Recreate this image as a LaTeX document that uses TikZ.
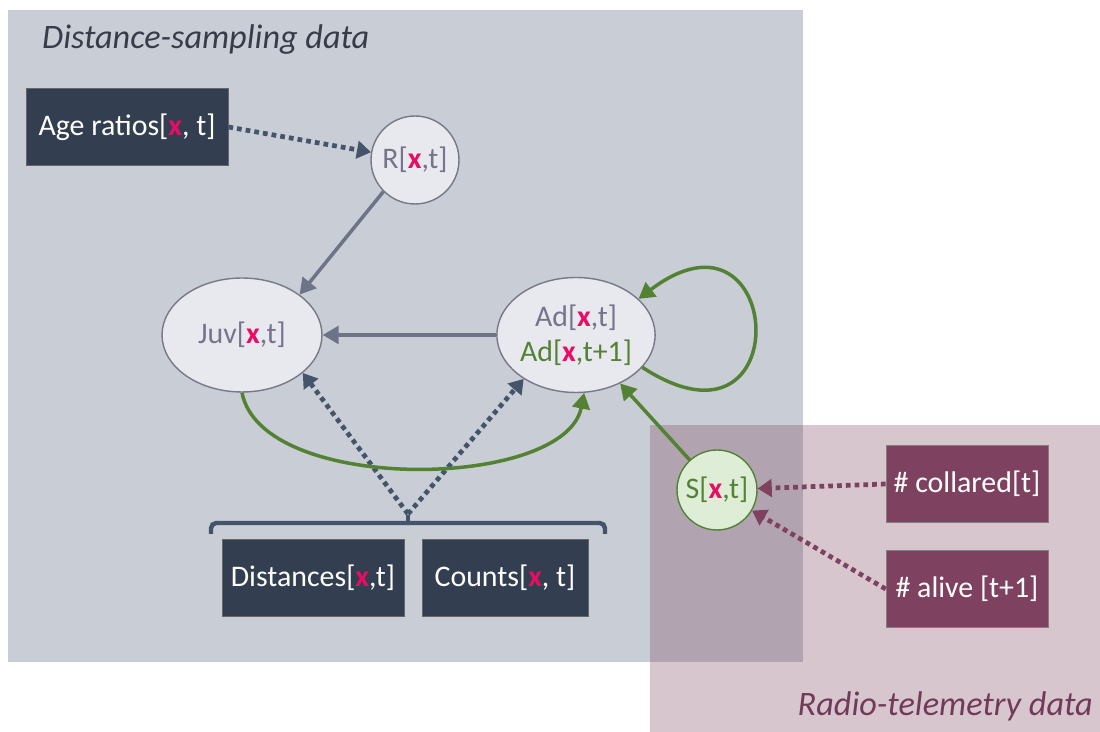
\documentclass[tikz,border=0pt]{standalone}
\usepackage{fontspec}
\setmainfont{Carlito}
\usetikzlibrary{arrows.meta,shapes.geometric}
\definecolor{bggray}{RGB}{201,205,213}
\definecolor{darkbox}{RGB}{51,63,80}
\definecolor{mauvebox}{RGB}{126,66,96}
\definecolor{nodefill}{RGB}{232,233,239}
\definecolor{nodeline}{RGB}{120,120,136}
\definecolor{txtgray}{RGB}{118,116,140}
\definecolor{arrgray}{RGB}{110,116,136}
\definecolor{dotcol}{RGB}{68,84,106}
\definecolor{grn}{RGB}{84,130,53}
\definecolor{lgrn}{RGB}{222,238,214}
\definecolor{xred}{RGB}{235,10,100}
\definecolor{titlegray}{RGB}{55,60,75}
\definecolor{titlemauve}{RGB}{112,58,88}
\newcommand{\bx}{\textcolor{xred}{\textbf{x}}}
\tikzset{
  datbox/.style={draw=black!60, fill=darkbox, text=white, inner sep=0pt, minimum height=1.54cm},
  telbox/.style={draw=black!50, fill=mauvebox, text=white, inner sep=0pt, minimum height=1.55cm, minimum width=3.24cm},
  latent/.style={ellipse, draw=nodeline, fill=nodefill, text=txtgray, thick, inner sep=0pt},
  solidarr/.style={line width=2pt, -{Triangle[length=9pt,width=10pt]}},
  dotarr/.style={line width=2.7pt, dash pattern=on 2.7pt off 2.3pt, -{Triangle[length=8pt,width=10pt]}}
}
\begin{document}
\begin{tikzpicture}[x=0.02cm, y=-0.02cm, font=\fontsize{17}{20}\selectfont]
  \useasboundingbox (0,0) rectangle (1100,732);
  \fill[bggray] (8,10) rectangle (803,662);
  \fill[mauvebox, opacity=0.3] (650,425) rectangle (1100,732);
  \node[anchor=west, text=titlegray, font=\fontsize{19.5}{22}\selectfont\itshape] (dstitle) at (36,40) {Distance-sampling data};
  \node[anchor=east, text=titlemauve, font=\fontsize{19.5}{22}\selectfont\itshape] (rttitle) at (1099,706) {Radio-telemetry data};

  \node[datbox, minimum width=4.04cm] (age) at (127,127) {Age ratios[\bx, t]};
  \node[latent, circle, minimum size=1.76cm] (r) at (415,160) {R[\bx,t]};
  \node[latent, minimum width=3.2cm, minimum height=2.28cm] (juv) at (242,335) {Juv[\bx,t]};
  \node[latent, minimum width=3.12cm, minimum height=2.3cm, align=center] (ad) at (576,335) {Ad[\bx,t]\\\textcolor{grn}{Ad[\bx,t+1]}};
  \node[latent, circle, draw=grn, fill=lgrn, text=grn, minimum size=1.6cm] (s) at (717,490) {S[\bx,t]};
  \node[datbox, minimum width=3.64cm] (dist) at (313,578) {Distances[\bx,t]};
  \node[datbox, minimum width=3.32cm] (cnt) at (505,578) {Counts[\bx, t]};
  \node[telbox] (col) at (967,484) {\# collared[t]};
  \node[telbox] (alv) at (967,589) {\# alive [t+1]};

  \draw[dotcol, line width=2.5pt, rounded corners=3pt] (211,534) -- (211,523) -- (605,523) -- (605,534);
  \draw[dotcol, line width=2.5pt] (408,523) -- (408,515);
  \coordinate (tip) at (408,514);

  \draw[dotarr, dotcol] (age.east) -- (r);
  \draw[solidarr, arrgray] (r.225) -- (juv.35);
  \draw[solidarr, arrgray] (ad) -- (juv);
  \draw[dotarr, dotcol] (tip) -- (juv.-32);
  \draw[dotarr, dotcol] (tip) -- (ad.-140);
  \draw[solidarr, grn] (juv.south) .. controls (262,495) and (565,490) .. (ad.-82);
  \draw[solidarr, grn] (ad.-26) .. controls (800,470) and (785,188) .. (ad.30);
  \draw[solidarr, grn] (s) -- (ad);
  \draw[dotarr, mauvebox] (col.west) -- (s);
  \draw[dotarr, mauvebox] (alv.west) -- (s);
\end{tikzpicture}
\end{document}
